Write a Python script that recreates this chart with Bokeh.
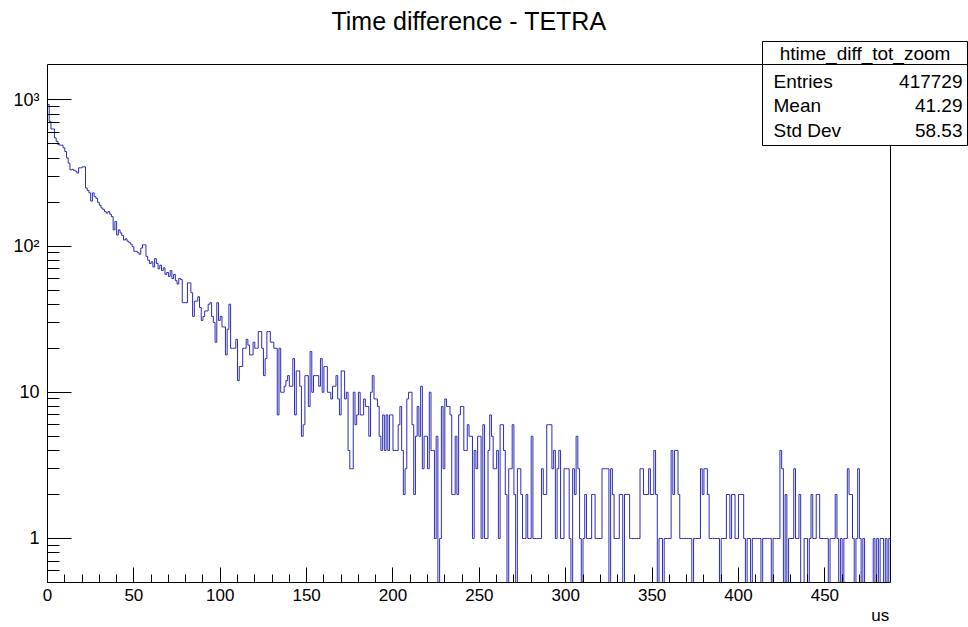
import numpy as np
from bokeh.plotting import figure
from bokeh.models import (Range1d, FixedTicker, CustomJSTickFormatter, Label, BoxAnnotation,
                          LinearAxis)
from bokeh.embed import file_html
from bokeh.resources import INLINE

# Bin contents of htime_diff_tot_zoom, 1 us bins from 0 to 488 us
counts = [
    930, 713, 632, 632, 550, 520, 494, 490, 490, 470,
    444, 401, 369, 332, 335, 330, 325, 316, 343, 343,
    348, 348, 250, 240, 231, 203, 231, 218, 212, 199,
    190, 182, 178, 172, 168, 172, 165, 159, 129, 147,
    119, 129, 123, 118, 110, 112, 108, 106, 103, 99,
    92, 92, 90, 88, 97, 102, 102, 85, 80, 76,
    78, 72, 82, 76, 70, 74, 68, 71, 64, 66,
    62, 68, 60, 64, 58, 55, 60, 59, 41, 41,
    41, 56, 56, 48, 33, 42, 42, 45, 38, 31,
    33, 36, 36, 40, 41, 33, 30, 22, 41, 31,
    33, 28, 28, 18, 27, 40, 20, 20, 20, 23,
    12, 15, 15, 20, 20, 23, 21, 18, 18, 22,
    20, 20, 26, 26, 20, 13, 17, 26, 26, 22,
    22, 20, 20, 7, 20, 10, 10, 11, 12, 13,
    11, 11, 17, 7, 14, 14, 11, 5, 6, 13,
    13, 8, 19, 10, 13, 13, 13, 11, 17, 10,
    15, 15, 10, 10, 9, 11, 11, 13, 9, 7,
    14, 14, 9, 10, 4, 3, 3, 10, 6, 7,
    10, 7, 7, 9, 8, 8, 5, 10, 13, 9,
    9, 8, 5, 4, 7, 4, 7, 4, 7, 7,
    4, 4, 4, 6, 8, 4, 2, 3, 9, 10,
    10, 6, 2, 5, 8, 5, 11, 3, 5, 5,
    3, 10, 4, 4, 1, 5, 0, 1, 8, 3,
    9, 8, 8, 7, 2, 2, 5, 2, 7, 8,
    8, 4, 4, 6, 5, 5, 1, 4, 3, 5,
    5, 1, 6, 1, 1, 4, 7, 5, 3, 3,
    4, 1, 6, 6, 4, 2, 0, 3, 3, 6,
    2, 0, 3, 3, 2, 1, 1, 2, 1, 1,
    5, 1, 1, 1, 1, 1, 3, 2, 2, 6,
    6, 6, 3, 4, 1, 3, 4, 1, 1, 3,
    3, 3, 1, 0, 3, 2, 5, 3, 1, 0,
    1, 2, 1, 1, 1, 2, 2, 1, 1, 1,
    1, 3, 3, 3, 3, 0, 3, 2, 1, 1,
    1, 2, 2, 0, 2, 2, 2, 1, 1, 1,
    1, 1, 1, 3, 3, 2, 2, 2, 3, 2,
    2, 4, 2, 0, 1, 1, 0, 1, 1, 1,
    1, 4, 2, 4, 4, 2, 1, 1, 1, 1,
    1, 1, 1, 0, 1, 1, 1, 1, 3, 2,
    3, 3, 2, 1, 1, 1, 1, 1, 1, 0,
    1, 1, 1, 2, 2, 1, 2, 2, 1, 1,
    2, 2, 2, 1, 0, 1, 1, 0, 1, 1,
    1, 1, 1, 0, 1, 1, 1, 1, 1, 0,
    1, 1, 1, 1, 4, 3, 0, 2, 0, 1,
    1, 1, 3, 1, 1, 2, 0, 0, 1, 1,
    0, 1, 2, 1, 1, 2, 2, 1, 1, 1,
    1, 1, 0, 1, 1, 1, 2, 1, 0, 1,
    0, 1, 1, 3, 2, 2, 1, 0, 1, 3,
    1, 0, 1, 0, 0, 0, 0, 0, 1, 0,
    1, 0, 1, 1, 0, 1, 0, 1,
]
bin_width = 1.0
x_start, x_end = 0.0, 488.0
y_start, y_end = 0.5, 1745.0

x_major = [0, 50, 100, 150, 200, 250, 300, 350, 400, 450]
x_minor = list(range(0, 490, 10))
y_major = [1, 10, 100, 1000]
y_major_labels = ["1", "10", "10\u00b2", "10\u00b3"]
y_minor = [0.5, 0.6, 0.7, 0.8, 0.9] + [m * d for d in (1, 10, 100) for m in range(2, 10)]

hist_title = "Time difference - TETRA"
x_title = "us"
stat_name = "htime_diff_tot_zoom"
stat_keys = ["Entries", "Mean", "Std Dev"]
stat_vals = ["417729", "41.29", "58.53"]

FONT = "Liberation Sans"
LINE = "#2c2cb4"

# Canvas layout (pixels): the histogram pad spans PAD_L..PAD_R, PAD_T..PAD_B.
W, H = 968, 627
PAD_L, PAD_R, PAD_T, PAD_B = 47, 890, 64, 582

# The plot frame covers the canvas right of the y axis and above the x axis,
# so the title and the statistics box can sit inside it; the axes are bounded
# to the histogram pad.
px_per_x = (PAD_R - PAD_L) / (x_end - x_start)
px_per_dec = (PAD_B - PAD_T) / np.log10(y_end / y_start)
frame_x_end = x_end + (W - PAD_R) / px_per_x
frame_y_top = y_end * 10 ** (PAD_T / px_per_dec)

# step outline: empty bins drop below the log-scale floor like ROOT does
edges = x_start + bin_width * np.arange(len(counts) + 1)
c = np.asarray(counts, dtype=float)
c_draw = np.where(c > 0, c, 1e-3)
y_step = np.append(c_draw, c_draw[-1])

p = figure(width=W, height=H, output_backend="svg", toolbar_location=None,
           x_range=Range1d(x_start, frame_x_end), y_range=Range1d(y_start, frame_y_top),
           y_axis_type="log",
           min_border_left=PAD_L, min_border_right=0, min_border_top=0,
           min_border_bottom=H - PAD_B)
p.background_fill_color = "white"
p.border_fill_color = "white"
p.outline_line_color = None
p.xgrid.visible = False
p.ygrid.visible = False

p.step(edges, y_step, mode="after", line_color=LINE, line_width=1)

# pad frame
p.add_layout(BoxAnnotation(left=x_start, right=x_end, bottom=y_start, top=y_end,
                           fill_alpha=0, line_color="black", line_width=1, line_alpha=1.0))

xa = p.xaxis[0]
xa.bounds = (x_start, x_end)
xa.ticker = FixedTicker(ticks=x_major, minor_ticks=x_minor)
xa.major_tick_in = 15
xa.major_tick_out = 0
xa.minor_tick_in = 8
xa.minor_tick_out = 0
xa.major_label_standoff = 6
xa.major_label_text_font = FONT
xa.major_label_text_font_size = "17px"
xa.major_label_text_color = "black"
xa.axis_line_color = "black"
xa.major_tick_line_color = "black"
xa.minor_tick_line_color = "black"

# axis title "us", right-aligned under the end of the x axis
us_width_units = 17.0 / px_per_x
title_axis = LinearAxis(
    ticker=FixedTicker(ticks=[x_end - 1 - us_width_units / 2], minor_ticks=[]),
    formatter=CustomJSTickFormatter(args=dict(lab=x_title), code="return lab;"))
title_axis.axis_line_color = None
title_axis.major_tick_line_color = None
title_axis.minor_tick_line_color = None
title_axis.major_tick_in = 0
title_axis.major_tick_out = 0
title_axis.major_label_standoff = 2
title_axis.major_label_text_font = FONT
title_axis.major_label_text_font_size = "17px"
title_axis.major_label_text_color = "black"
p.add_layout(title_axis, "below")

ya = p.yaxis[0]
ya.bounds = (y_start, y_end)
ya.ticker = FixedTicker(ticks=y_major, minor_ticks=y_minor)
ya.formatter = CustomJSTickFormatter(
    args=dict(vals=y_major, labs=y_major_labels),
    code="""
    for (let i = 0; i < vals.length; i++) {
        if (Math.abs(vals[i] - tick) < 1e-6 * vals[i]) return labs[i];
    }
    return "";
    """)
ya.major_tick_in = 24
ya.major_tick_out = 0
ya.minor_tick_in = 12
ya.minor_tick_out = 0
ya.major_label_standoff = 8
ya.major_label_text_font = FONT
ya.major_label_text_font_size = "18px"
ya.major_label_text_color = "black"
ya.axis_line_color = "black"
ya.major_tick_line_color = "black"
ya.minor_tick_line_color = "black"

# title in canvas pixels
p.add_layout(Label(x=(PAD_L + PAD_R) / 2, y=20, x_units="canvas", y_units="canvas",
                   text=hist_title, text_align="center", text_baseline="middle",
                   text_font=FONT, text_font_size="25px", text_color="black"))

# statistics box
box_l, box_r, box_t, box_mid, box_b = 762, 967, 41, 64, 145
for top, bottom in ((box_t, box_mid), (box_mid, box_b)):
    p.add_layout(BoxAnnotation(left=box_l, right=box_r, top=top, bottom=bottom,
                               left_units="canvas", right_units="canvas",
                               top_units="canvas", bottom_units="canvas",
                               fill_color="white", fill_alpha=1.0,
                               line_color="black", line_width=1, line_alpha=1.0,
                               level="overlay"))
p.add_layout(Label(x=(box_l + box_r) / 2, y=53, x_units="canvas", y_units="canvas",
                   text=stat_name, text_align="center", text_baseline="middle",
                   text_font=FONT, text_font_size="19px", text_color="black", level="overlay"))
row_y = [81, 105, 130]
for key, val, yy in zip(stat_keys, stat_vals, row_y):
    p.add_layout(Label(x=773, y=yy, x_units="canvas", y_units="canvas", text=key,
                       text_align="left", text_baseline="middle", text_font=FONT,
                       text_font_size="19px", text_color="black", level="overlay"))
    p.add_layout(Label(x=962, y=yy, x_units="canvas", y_units="canvas", text=val,
                       text_align="right", text_baseline="middle", text_font=FONT,
                       text_font_size="19px", text_color="black", level="overlay"))

open("out.html", "w").write(file_html(p, INLINE))
